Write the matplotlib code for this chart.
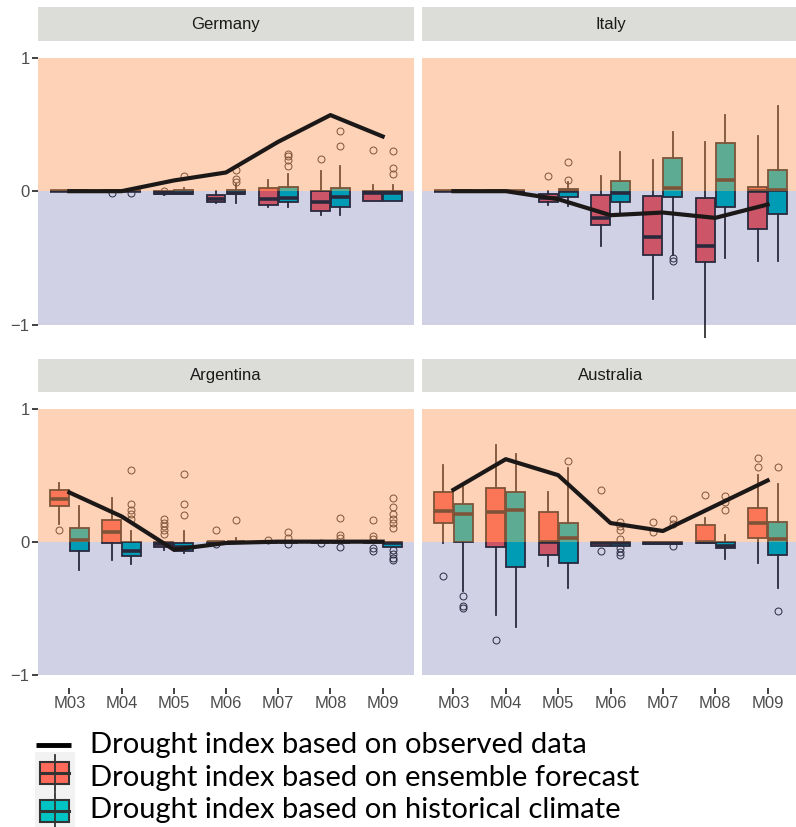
import matplotlib.pyplot as plt
from matplotlib.patches import Rectangle

months = ["M03", "M04", "M05", "M06", "M07", "M08", "M09"]

# observed drought index per month
germany_obs = [0.0, 0.0, 0.08, 0.14, 0.37, 0.57, 0.41]
italy_obs = [0.0, 0.0, -0.06, -0.18, -0.16, -0.2, -0.1]
argentina_obs = [0.37, 0.19, -0.06, -0.01, 0.0, 0.0, 0.0]
australia_obs = [0.39, 0.62, 0.5, 0.14, 0.08, 0.27, 0.46]

# box stats: (whislo, q1, med, q3, whishi, fliers)
germany_fc = [
    (0, 0, 0, 0, 0, []),
    (0, 0, 0, 0, 0, [-0.01]),
    (-0.03, -0.02, -0.01, 0.0, 0.0, [0.0]),
    (-0.09, -0.08, -0.06, -0.03, 0.0, []),
    (-0.12, -0.1, -0.06, 0.02, 0.08, []),
    (-0.18, -0.15, -0.08, 0.0, 0.15, [0.24]),
    (-0.07, -0.07, -0.01, 0.0, 0.045, [0.31]),
]
germany_clim = [
    (0, 0, 0, 0, 0, []),
    (0, 0, 0, 0, 0, [-0.01]),
    (-0.02, -0.02, -0.01, 0.01, 0.02, [0.11]),
    (-0.09, -0.02, -0.01, 0.01, 0.05, [0.07, 0.09, 0.16]),
    (-0.12, -0.08, -0.05, 0.03, 0.13, [0.19, 0.23, 0.26, 0.28]),
    (-0.18, -0.12, -0.04, 0.02, 0.19, [0.34, 0.45]),
    (-0.07, -0.07, -0.01, 0.0, 0.045, [0.13, 0.17, 0.3]),
]
italy_fc = [
    (0, 0, 0, 0, 0, []),
    (0, 0, 0, 0, 0, []),
    (-0.1, -0.08, -0.05, -0.02, 0.0, [0.11]),
    (-0.41, -0.25, -0.2, -0.025, 0.11, []),
    (-0.81, -0.48, -0.34, -0.035, 0.23, []),
    (-1.12, -0.53, -0.41, -0.05, 0.37, []),
    (-0.52, -0.28, 0.0, 0.03, 0.41, []),
]
italy_clim = [
    (0, 0, 0, 0, 0, []),
    (0, 0, 0, 0, 0, []),
    (-0.11, -0.04, 0.0, 0.015, 0.07, [0.08, 0.22]),
    (-0.16, -0.08, -0.01, 0.075, 0.29, []),
    (-0.48, -0.04, 0.02, 0.25, 0.44, [-0.5, -0.52]),
    (-0.5, -0.12, 0.08, 0.36, 0.57, []),
    (-0.52, -0.17, 0.01, 0.16, 0.64, []),
]
argentina_fc = [
    (0.13, 0.27, 0.32, 0.385, 0.44, [0.09]),
    (-0.14, -0.01, 0.075, 0.16, 0.33, []),
    (-0.06, -0.04, -0.02, 0.0, 0.0, [0.06, 0.09, 0.12, 0.14, 0.17]),
    (-0.02, -0.01, 0.0, 0.0, 0.0, [0.09, -0.02]),
    (0, 0, 0, 0, 0, [0.01]),
    (0, 0, 0, 0, 0, [-0.01]),
    (0, 0, 0, 0, 0, [0.16, 0.04, 0.02, -0.05, -0.07]),
]
argentina_clim = [
    (-0.21, -0.07, 0.01, 0.1, 0.27, []),
    (-0.17, -0.11, -0.07, 0.0, 0.08, [0.17, 0.21, 0.24, 0.28, 0.54]),
    (-0.085, -0.07, -0.04, -0.01, 0.08, [0.2, 0.28, 0.51]),
    (0, 0, 0, 0, 0.03, [0.16]),
    (0, 0, 0, 0, 0, [0.07, 0.03, -0.02]),
    (0, 0, 0, 0, 0, [0.18, 0.05, 0.03, -0.04]),
    (-0.04, -0.04, -0.01, 0.0, 0.0, [0.33, 0.26, 0.21, 0.17, 0.14, 0.1, -0.06, -0.09, -0.12, -0.14]),
]
australia_fc = [
    (-0.01, 0.14, 0.23, 0.37, 0.58, [-0.26]),
    (-0.55, -0.04, 0.22, 0.4, 0.73, [-0.74]),
    (-0.18, -0.1, 0.0, 0.22, 0.37, []),
    (-0.03, -0.03, -0.01, 0.0, 0.0, [0.39, -0.07]),
    (-0.02, -0.02, -0.01, 0.0, 0.0, [0.15, 0.07]),
    (-0.01, -0.01, 0.0, 0.125, 0.18, [0.35]),
    (-0.16, 0.03, 0.14, 0.25, 0.5, [0.56, 0.63]),
]
australia_clim = [
    (-0.37, 0.0, 0.21, 0.28, 0.41, [-0.41, -0.48, -0.5]),
    (-0.64, -0.19, 0.24, 0.37, 0.66, []),
    (-0.35, -0.16, 0.03, 0.14, 0.55, [0.61]),
    (-0.03, -0.03, -0.01, 0.0, 0.0, [0.15, 0.12, 0.09, 0.02, -0.05, -0.08, -0.1]),
    (-0.02, -0.02, -0.01, 0.0, 0.0, [0.17, 0.13, -0.03]),
    (-0.13, -0.05, -0.03, 0.0, 0.05, [0.24, 0.3, 0.34]),
    (-0.35, -0.1, 0.02, 0.15, 0.43, [0.56, -0.52]),
]

legend_labels = [
    "Drought index based on observed data",
    "Drought index based on ensemble forecast",
    "Drought index based on historical climate",
]

RED = "#FA6A64"
TEAL = "#00BFC4"
EDGE = "#333333"
W, H = 796, 827


def px_axes(fig, x0, y0, x1, y1):
    # pixel box (top-left origin) -> figure axes
    return fig.add_axes([x0 / W, 1 - y1 / H, (x1 - x0) / W, (y1 - y0) / H])


def to_stats(rows):
    return [dict(whislo=r[0], q1=r[1], med=r[2], q3=r[3], whishi=r[4], fliers=r[5]) for r in rows]


def draw_panel(ax, obs, fc, clim, left, bottom):
    pos = list(range(len(months)))
    for rows, off, col in [(fc, -0.19, RED), (clim, 0.19, TEAL)]:
        ax.bxp(to_stats(rows), positions=[p + off for p in pos], widths=0.36,
               patch_artist=True, showcaps=False, manage_ticks=False, zorder=2,
               boxprops=dict(facecolor=col, edgecolor=EDGE, linewidth=1.3),
               medianprops=dict(color=EDGE, linewidth=2.6),
               whiskerprops=dict(color=EDGE, linewidth=1.3),
               flierprops=dict(marker="o", markerfacecolor="none", markeredgecolor=EDGE,
                               markersize=5, markeredgewidth=0.7))
    ax.axhspan(0, 1, color=(250 / 255, 139 / 255, 68 / 255), alpha=0.38, lw=0, zorder=4)
    ax.axhspan(-1, 0, color=(0, 0, 117 / 255), alpha=0.18, lw=0, zorder=4)
    ax.plot(pos, obs, color="#1c1818", lw=3, zorder=5)

    ax.set_xlim(-0.6, 6.6)
    ax.set_ylim(-1.1, 1.125)
    for s in ax.spines.values():
        s.set_visible(False)
    ax.tick_params(length=4, width=1.3, color=EDGE, labelcolor="#4D4D4D", labelsize=12, pad=2)
    ax.set_xticks(pos)
    if bottom:
        ax.set_xticklabels(months, family="Liberation Sans")
    else:
        ax.tick_params(axis="x", length=0, labelbottom=False)
    ax.set_yticks([-1, 0, 1])
    if left:
        ax.set_yticklabels(["\u22121", "0", "1"], family="Liberation Sans")
    else:
        ax.tick_params(axis="y", length=0, labelleft=False)


def draw_strip(fig, x0, y0, x1, y1, title):
    sax = px_axes(fig, x0, y0, x1, y1)
    sax.set_facecolor("#DCDCD8")
    sax.set_xticks([])
    sax.set_yticks([])
    for s in sax.spines.values():
        s.set_visible(False)
    sax.text(0.5, 0.5, title, ha="center", va="center", fontsize=12,
             color="#1A1A1A", family="Liberation Sans", transform=sax.transAxes)


fig = plt.figure(figsize=(W / 100, H / 100), dpi=100)

panels = [
    ("Germany", germany_obs, germany_fc, germany_clim, 38, 414, 41, 338, True, False, 7),
    ("Italy", italy_obs, italy_fc, italy_clim, 422, 799, 41, 338, False, False, 7),
    ("Argentina", argentina_obs, argentina_fc, argentina_clim, 38, 414, 392, 688, True, True, 359),
    ("Australia", australia_obs, australia_fc, australia_clim, 422, 799, 392, 688, False, True, 359),
]
for name, obs, fc, clim, x0, x1, y0, y1, left, bottom, sy in panels:
    ax = px_axes(fig, x0, y0, x1, y1)
    draw_panel(ax, obs, fc, clim, left, bottom)
    draw_strip(fig, x0, sy, x1, y0, name)

# legend drawn in a pixel-space overlay
lax = fig.add_axes([0, 0, 1, 1], zorder=-1)
lax.set_xlim(0, W)
lax.set_ylim(H, 0)
lax.axis("off")
lax.add_patch(Rectangle((35, 752), 40, 75, color="#F2F2F2", lw=0))
lax.plot([36, 71], [745, 745], color="black", lw=3.5, solid_capstyle="butt")
for yc, col in [(773, "#FF6A5A"), (811, "#00C4C4")]:
    lax.plot([54.5, 54.5], [yc - 18, yc + 18], color=EDGE, lw=1.3)
    lax.add_patch(Rectangle((40, yc - 11), 29, 22, facecolor=col, edgecolor=EDGE, lw=1.5))
    lax.plot([40, 69], [yc, yc], color=EDGE, lw=2.2)
for yc, label in zip([745, 778, 810], legend_labels):
    lax.text(90, yc, label, ha="left", va="center", fontsize=21, family="Lato", color="black")

fig.savefig("out.png", dpi=100)
